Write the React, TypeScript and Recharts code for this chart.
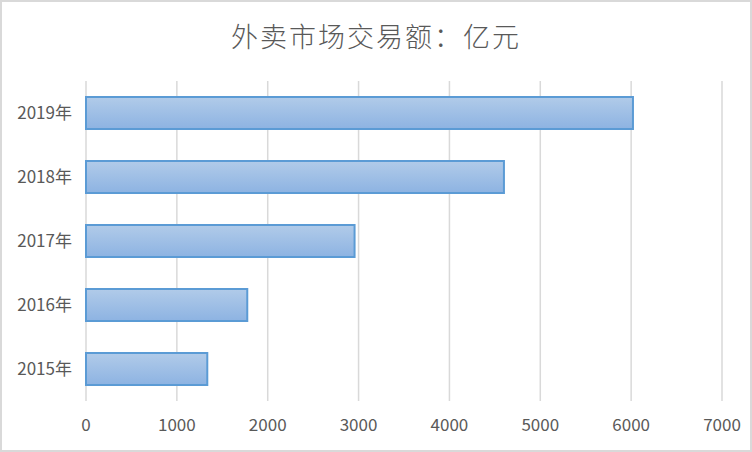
import { Bar, BarChart, CartesianGrid, XAxis, YAxis } from "recharts";

const years = ["2015年", "2016年", "2017年", "2018年", "2019年"];
const amounts = [1335, 1775, 2956, 4600, 6020];
const xTicks = [0, 1000, 2000, 3000, 4000, 5000, 6000, 7000];

const TITLE = "外卖市场交易额：亿元";
const TEXT = "#595959";
const GRID = "#d9d9d9";

export default function App() {
  // newest year on top, like the Excel original
  const data = years.map((y, i) => ({ year: y, value: amounts[i] })).reverse();
  return (
    <div
      style={{
        position: "fixed",
        left: 0,
        top: 0,
        width: 752,
        height: 452,
        boxSizing: "border-box",
        border: `2px solid ${GRID}`,
        background: "#fff",
        fontFamily: "'Liberation Sans Narrow', 'Noto Sans CJK SC', sans-serif",
      }}
    >
      <div
        style={{
          position: "absolute",
          top: 14,
          left: 0,
          width: "100%",
          textAlign: "center",
          fontSize: 27,
          lineHeight: "40px",
          color: TEXT,
          fontFamily: "'Noto Sans CJK SC', sans-serif",
          fontWeight: 300,
          letterSpacing: 2,
        }}
      >
        {TITLE}
      </div>
      <BarChart
        width={748}
        height={448}
        data={data}
        layout="vertical"
        barCategoryGap="25%"
        margin={{ top: 79, right: 28, bottom: 9, left: 0 }}
      >
        <defs>
          <linearGradient id="barFill" x1="0" y1="0" x2="0" y2="1">
            <stop offset="0%" stopColor="#b1cbe9" />
            <stop offset="100%" stopColor="#8db3e2" />
          </linearGradient>
        </defs>
        <CartesianGrid horizontal={false} stroke={GRID} strokeWidth={1.5} />
        <XAxis
          type="number"
          dataKey="value"
          domain={[0, 7000]}
          ticks={xTicks}
          interval={0}
          height={40}
          axisLine={false}
          tickLine={false}
          tick={{ fill: TEXT, fontSize: 17 }}
          tickMargin={12}
        />
        <YAxis
          type="category"
          dataKey="year"
          width={84}
          axisLine={false}
          tickLine={false}
          tick={{ fill: TEXT, fontSize: 17 }}
          tickMargin={8}
        />
        <Bar
          dataKey="value"
          fill="url(#barFill)"
          stroke="#5b9bd5"
          strokeWidth={2}
          isAnimationActive={false}
        />
      </BarChart>
    </div>
  );
}
